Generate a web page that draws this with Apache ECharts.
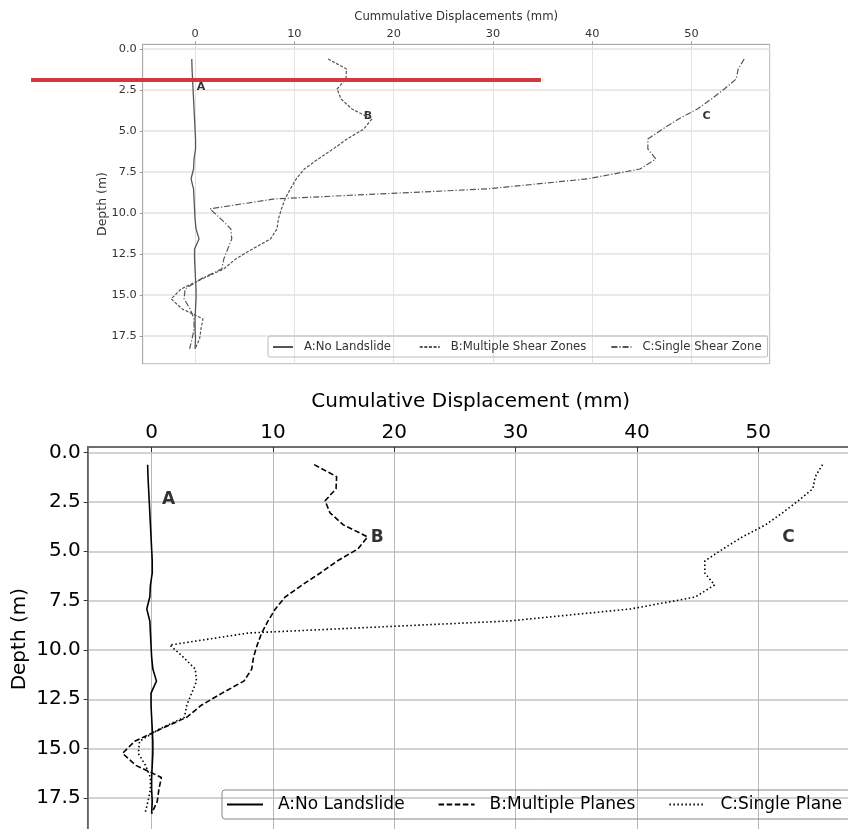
<!DOCTYPE html>
<html>
<head>
<meta charset="utf-8">
<script src="https://cdn.jsdelivr.net/npm/echarts@6/dist/echarts.min.js"></script>
<style>
  html, body { margin: 0; padding: 0; background: #fff; }
  #chart { width: 848px; height: 829px; }
</style>
</head>
<body>
<div id="chart"></div>
<script>
// depth of each reading (m), every 0.61 m
const depth = [0.61, 1.22, 1.83, 2.44, 3.05, 3.66, 4.27, 4.88, 5.49, 6.10,
  6.71, 7.32, 7.92, 8.53, 9.14, 9.75, 10.36, 10.97, 11.58, 12.19,
  12.80, 13.41, 14.02, 14.63, 15.24, 15.85, 16.46, 17.07, 17.68, 18.29];
// cumulative displacement (mm)
const noLandslide = [-0.33, -0.3, -0.25, -0.2, -0.15, -0.1, -0.05, 0.0, 0.05, 0.05,
  -0.1, -0.15, -0.4, -0.15, -0.1, -0.05, 0.0, 0.1, 0.4, -0.05,
  -0.05, 0.0, 0.05, 0.1, 0.1, 0.05, 0.0, 0.0, 0.05, 0.0];
const multiplePlanes = [13.4, 15.25, 15.2, 14.3, 14.7, 15.8, 17.8, 17.0, 15.3, 13.9,
  12.4, 11.0, 10.2, 9.6, 9.07, 8.7, 8.4, 8.25, 7.6, 5.8,
  4.1, 2.9, 0.7, -1.4, -2.4, -1.3, 0.8, 0.6, 0.46, 0.0];
const singlePlane = [55.3, 54.7, 54.5, 53.3, 52.0, 50.6, 48.7, 47.1, 45.6, 45.6,
  46.4, 44.8, 39.5, 29.5, 8.0, 1.5, 2.6, 3.6, 3.7, 3.3,
  2.9, 2.7, 0.6, -1.0, -1.1, -0.5, -0.1, -0.1, -0.3, -0.55];

const xTicks = [0, 10, 20, 30, 40, 50];
const yTicks = [0, 2.5, 5, 7.5, 10, 12.5, 15, 17.5];

const topNames = ['A:No Landslide ', 'B:Multiple Shear Zones', 'C:Single Shear Zone'];
const bottomNames = ['A:No Landslide', 'B:Multiple Planes', 'C:Single Plane'];

// curve labels: [text, displacement, depth]
const topMarks = [['A', 0.6, 2.3], ['B', 17.4, 4.1], ['C', 51.5, 4.1]];
const bottomMarks = [['A', 1.4, 2.4], ['B', 18.6, 4.32], ['C', 52.5, 4.32]];

const font = 'DejaVu Sans';

function pairs(vals) {
  return depth.map((d, i) => [vals[i], d]);
}

function xAxisCfg(idx, big) {
  return {
    type: 'value',
    gridIndex: idx,
    position: 'top',
    min: -5.27,
    max: 57.87,
    name: big ? 'Cumulative Displacement (mm)' : 'Cummulative Displacements (mm)',
    nameLocation: 'middle',
    nameGap: big ? 35 : 21,
    nameMoveOverlap: false,
    nameTextStyle: { fontFamily: font, fontSize: big ? 20 : 11.7, color: big ? '#000' : '#333' },
    axisLine: { show: true, onZero: false, lineStyle: { color: big ? '#666' : '#aaa', width: big ? 1.5 : 1 } },
    axisTick: { show: true, inside: big, length: big ? 5 : 3, customValues: xTicks,
      lineStyle: { color: big ? '#333' : '#999' } },
    axisLabel: { customValues: xTicks, margin: big ? 4 : 5,
      fontFamily: font, fontSize: big ? 20 : 11.3, color: big ? '#000' : '#333' },
    splitLine: { show: true, lineStyle: { color: big ? '#b8b8b8' : '#e2e2e2', width: 1 } }
  };
}

function yAxisCfg(idx, big) {
  return {
    type: 'value',
    gridIndex: idx,
    inverse: true,
    min: -0.285,
    max: 19.19,
    name: 'Depth (m)',
    nameLocation: 'middle',
    nameGap: big ? 58 : 33,
    nameMoveOverlap: false,
    nameTextStyle: { fontFamily: font, fontSize: big ? 20 : 12.5, color: big ? '#000' : '#333' },
    axisLine: { show: true, onZero: false, lineStyle: { color: big ? '#666' : '#aaa', width: big ? 1.5 : 1 } },
    axisTick: { show: true, length: big ? 4 : 3, customValues: yTicks,
      lineStyle: { color: big ? '#333' : '#999' } },
    axisLabel: { customValues: yTicks, margin: big ? 7 : 6,
      formatter: v => v.toFixed(1),
      fontFamily: font, fontSize: big ? 20 : 11.3, color: big ? '#000' : '#333' },
    splitLine: { show: true, lineStyle: { color: big ? '#c4c4c4' : '#e2e2e2', width: 1.5 } }
  };
}

function lineSeries(name, vals, idx, dash, color, width) {
  return {
    name: name,
    type: 'line',
    xAxisIndex: idx,
    yAxisIndex: idx,
    data: pairs(vals),
    symbol: 'none',
    silent: true,
    animation: false,
    lineStyle: { color: color, width: width, type: dash },
    itemStyle: { color: color }
  };
}

function markSeries(marks, idx, big) {
  return {
    type: 'scatter',
    xAxisIndex: idx,
    yAxisIndex: idx,
    symbolSize: 0,
    silent: true,
    animation: false,
    data: marks.map(m => [m[1], m[2], m[0]]),
    label: {
      show: true,
      position: 'inside',
      formatter: p => p.data[2],
      fontFamily: font,
      fontWeight: 'bold',
      fontSize: big ? 17 : 11,
      color: '#000'
    }
  };
}

const chart = echarts.init(document.getElementById('chart'), null, { renderer: 'canvas' });

chart.setOption({
  backgroundColor: '#fff',
  animation: false,
  grid: [
    { left: 142.7, top: 44.3, width: 627, height: 319.4, show: true,
      outerBoundsMode: 'none', containLabel: false,
      borderColor: '#bbb', borderWidth: 1, backgroundColor: 'transparent' },
    { left: 87.7, top: 447, width: 766, height: 384.3, show: true,
      outerBoundsMode: 'none', containLabel: false,
      borderColor: '#666', borderWidth: 1.5, backgroundColor: 'transparent' }
  ],
  xAxis: [xAxisCfg(0, false), xAxisCfg(1, true)],
  yAxis: [yAxisCfg(0, false), yAxisCfg(1, true)],
  legend: [
    {
      data: topNames,
      left: 268, top: 336,
      itemWidth: 20, itemHeight: 8, itemGap: 24,
      padding: [5, 6, 4, 4],
      borderColor: '#bbb', borderWidth: 1, borderRadius: 2,
      selectedMode: false,
      itemStyle: { opacity: 0 },
      textStyle: { fontFamily: font, fontSize: 11.7, color: '#333', padding: [0, 0, 0, 6] }
    },
    {
      data: bottomNames,
      left: 222, top: 790,
      width: 700,
      itemWidth: 36, itemHeight: 12, itemGap: 33,
      padding: [6, 8, 6, 4],
      borderColor: '#888', borderWidth: 1, borderRadius: 3,
      selectedMode: false,
      itemStyle: { opacity: 0 },
      textStyle: { fontFamily: font, fontSize: 17, color: '#000', padding: [0, 0, 0, 10] }
    }
  ],
  graphic: [
    {
      type: 'line',
      shape: { x1: 31, y1: 80, x2: 541, y2: 80 },
      style: { stroke: '#d6363d', lineWidth: 4 },
      z: 100
    }
  ],
  series: [
    lineSeries(topNames[0], noLandslide, 0, 'solid', '#555', 1.3),
    lineSeries(topNames[1], multiplePlanes, 0, [3, 1.6], '#555', 1.2),
    lineSeries(topNames[2], singlePlane, 0, [6, 2, 1.2, 2], '#555', 1.2),
    markSeries(topMarks, 0, false),
    lineSeries(bottomNames[0], noLandslide, 1, 'solid', '#000', 1.6),
    lineSeries(bottomNames[1], multiplePlanes, 1, [5.5, 2.6], '#000', 1.6),
    lineSeries(bottomNames[2], singlePlane, 1, [1.5, 2.5], '#000', 1.6),
    markSeries(bottomMarks, 1, true)
  ]
});
</script>
</body>
</html>
